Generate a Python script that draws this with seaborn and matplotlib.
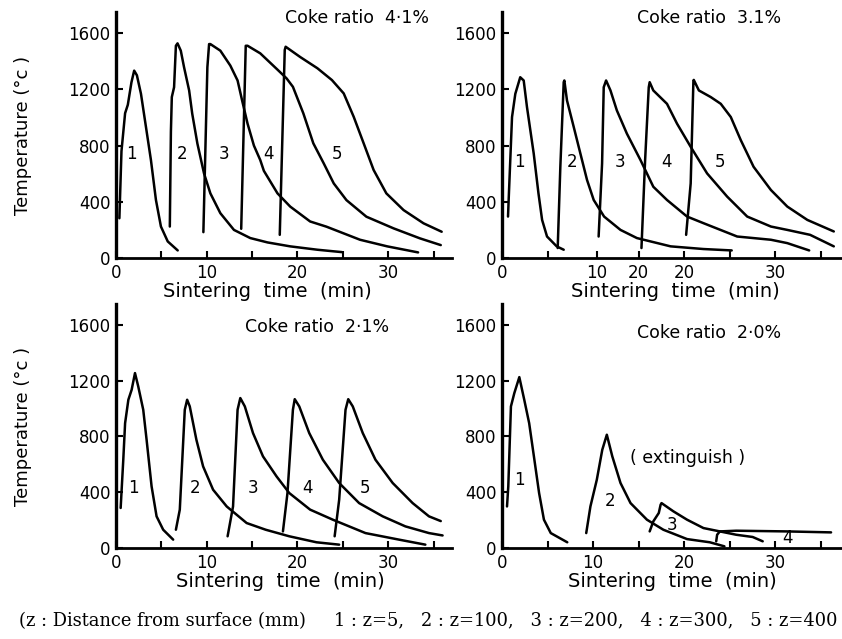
import matplotlib
matplotlib.use("Agg")
import matplotlib.pyplot as plt
import pandas as pd
import seaborn as sns

sns.set_theme(style="white", rc={
    "axes.edgecolor": "black", "text.color": "black", "axes.labelcolor": "black",
    "xtick.color": "black", "ytick.color": "black",
})
plt.rcParams["font.family"] = ["DejaVu Sans"]

TITLES = ["Coke ratio  4·1%", "Coke ratio  3.1%", "Coke ratio  2·1%", "Coke ratio  2·0%"]
CAPTION = ("(z : Distance from surface (mm)     1 : z=5,   2 : z=100,   3 : z=200,   "
           "4 : z=300,   5 : z=400")

# coke ratio 4.1 %
TIME_41 = [
    [0.37, 0.6, 1.0, 1.3, 1.7, 2.0, 2.3, 2.75, 3.3, 3.85, 4.4, 4.95, 5.7, 6.8],
    [5.93, 6.05, 6.15, 6.4, 6.6, 6.78, 7.14, 7.5, 8.06, 8.4, 8.97, 9.7, 10.4, 11.5, 13.0,
     14.8, 16.7, 19.2, 22.2, 24.9],
    [9.63, 10.07, 10.26, 10.4, 11.5, 12.6, 13.4, 13.9, 14.5, 15.2, 15.9, 16.3, 17.8, 19.2,
     21.4, 23.2, 26.9, 29.9, 33.3],
    [13.8, 14.3, 14.5, 15.9, 17.8, 18.8, 19.5, 20.65, 21.75, 22.9, 24.0, 25.4, 27.6, 30.6,
     33.5, 35.8],
    [18.05, 18.6, 18.7, 20.3, 22.2, 23.8, 25.1, 26.2, 27.3, 28.4, 29.8, 31.7, 33.9, 35.9],
]
TEMP_41 = [
    [283, 760, 1030, 1090, 1250, 1333, 1300, 1168, 932, 696, 413, 224, 118, 54],
    [224, 900, 1145, 1215, 1510, 1527, 1475, 1357, 1192, 1027, 814, 602, 460, 319, 200,
     142, 111, 83, 59, 42],
    [184, 1357, 1522, 1522, 1475, 1369, 1263, 1121, 956, 800, 697, 620, 460, 366,
     260, 223, 130, 83, 40],
    [208, 1510, 1510, 1456, 1340, 1278, 1218, 1029, 816, 673, 531, 412, 294, 211, 140, 92],
    [165, 1480, 1503, 1430, 1350, 1266, 1171, 1005, 816, 626, 460, 341, 247, 187],
]

# coke ratio 3.1 %
TIME_31 = [
    [0.66, 0.73, 1.1, 1.46, 2.0, 2.38, 2.74, 3.48, 4.0, 4.4, 4.94, 6.0, 6.77],
    [6.11, 6.4, 6.77, 6.84, 7.13, 7.87, 8.6, 9.33, 10.06, 11.2, 13.0, 14.8, 18.5, 22.1, 25.2],
    [10.6, 10.98, 11.16, 11.42, 11.9, 12.6, 13.7, 15.2, 16.6, 18.1, 20.3, 22.1, 25.8, 29.5,
     31.3, 33.7],
    [15.3, 15.7, 16.1, 16.2, 16.6, 18.1, 19.2, 20.7, 22.5, 24.7, 26.9, 29.5, 31.3, 33.8, 36.4],
    [20.2, 20.7, 21.0, 21.04, 21.6, 22.9, 24.0, 25.1, 26.2, 27.6, 29.5, 31.3, 33.5, 36.4],
]
TEMP_31 = [
    [295, 413, 1003, 1168, 1286, 1263, 1074, 743, 460, 271, 153, 83, 59],
    [71, 649, 1251, 1263, 1121, 932, 743, 555, 413, 295, 200, 142, 83, 64, 54],
    [153, 673, 1215, 1263, 1192, 1050, 885, 696, 507, 413, 295, 248, 153, 130, 106, 54],
    [71, 696, 1215, 1251, 1192, 1097, 956, 791, 602, 437, 295, 224, 200, 165, 83],
    [165, 531, 1263, 1267, 1192, 1145, 1097, 1003, 838, 649, 484, 366, 271, 189],
]

# coke ratio 2.1 %
TIME_21 = [
    [0.51, 0.8, 1.0, 1.36, 1.72, 2.09, 2.45, 3.0, 3.37, 3.92, 4.47, 5.2, 6.3],
    [6.6, 7.03, 7.58, 7.84, 8.13, 8.86, 9.6, 10.7, 12.2, 14.4, 16.5, 19.1, 22.1, 24.6],
    [12.3, 12.9, 13.4, 13.7, 14.2, 15.1, 16.2, 17.7, 19.1, 21.4, 23.9, 27.5, 31.2, 34.1],
    [18.4, 18.9, 19.5, 19.7, 20.2, 21.3, 22.8, 24.6, 26.8, 29.4, 31.9, 34.5, 36.0],
    [24.1, 24.6, 25.3, 25.6, 26.1, 27.2, 28.6, 30.5, 32.7, 34.5, 35.8],
]
TEMP_21 = [
    [287, 633, 895, 1063, 1134, 1254, 1158, 991, 776, 442, 227, 131, 60],
    [131, 275, 991, 1063, 1015, 776, 585, 418, 298, 179, 131, 84, 41, 24],
    [84, 298, 991, 1075, 1015, 824, 657, 513, 394, 275, 203, 107, 60, 24],
    [119, 394, 991, 1067, 1015, 824, 633, 466, 322, 227, 155, 107, 90],
    [84, 346, 991, 1067, 1015, 824, 633, 466, 322, 227, 193],
]

# coke ratio 2.0 %
TIME_20 = [
    [0.55, 0.69, 0.98, 1.35, 1.9, 2.44, 2.98, 3.5, 4.07, 4.6, 5.35, 7.16],
    [9.24, 9.7, 10.4, 11.0, 11.5, 12.1, 13.0, 14.1, 15.9, 17.7, 20.3, 22.8, 24.4],
    [16.2, 16.6, 17.2, 17.4, 17.5, 18.8, 20.3, 22.1, 23.9, 25.7, 27.5, 28.6],
    [23.5, 23.6, 23.9, 25.7, 31.2, 36.1],
]
TEMP_20 = [
    [298, 442, 1015, 1110, 1225, 1063, 895, 657, 394, 203, 107, 41],
    [107, 298, 489, 704, 812, 657, 466, 322, 203, 131, 64, 41, 12],
    [119, 191, 251, 310, 322, 263, 203, 143, 119, 95, 79, 48],
    [48, 95, 119, 124, 119, 112],
]

# curve number labels (x, y)
LBL_41 = [(1.65, 743), (7.3, 743), (11.9, 743), (16.8, 743), (24.4, 743)]
LBL_31 = [(1.94, 684), (7.7, 684), (12.9, 684), (18.1, 684), (23.9, 684)]
LBL_21 = [(1.9, 430), (8.7, 430), (15.1, 430), (21.1, 430), (27.4, 430)]
LBL_20 = [(1.9, 489), (11.9, 334), (18.6, 167), (31.3, 72)]

TITLE_POS = [(18.6, 1707), (14.8, 1707), (14.2, 1583), (14.8, 1540)]
XLABEL_X = [0.45, 0.51, 0.49, 0.50]

PANELS = [(TIME_41, TEMP_41, LBL_41), (TIME_31, TEMP_31, LBL_31),
          (TIME_21, TEMP_21, LBL_21), (TIME_20, TEMP_20, LBL_20)]

fig = plt.figure(figsize=(8.42, 6.39), dpi=100)
rects = [
    [0.1378, 0.5962, 0.3986, 0.385],
    [0.5962, 0.5962, 0.4038, 0.385],
    [0.1378, 0.1424, 0.3986, 0.382],
    [0.5962, 0.1424, 0.4038, 0.382],
]

for i, (times, temps, labels) in enumerate(PANELS):
    ax = fig.add_axes(rects[i])
    rows = []
    for k, (tt, yy) in enumerate(zip(times, temps)):
        for t, y in zip(tt, yy):
            rows.append({"curve": k + 1, "time": t, "temp": y})
    df = pd.DataFrame(rows)
    sns.lineplot(data=df, x="time", y="temp", units="curve", estimator=None,
                 sort=False, color="black", lw=1.8, ax=ax)

    for n, (lx, ly) in enumerate(labels):
        ax.text(lx, ly, str(n + 1), fontsize=12, ha="center", va="center")
    tx, ty = TITLE_POS[i]
    ax.text(tx, ty, TITLES[i], fontsize=12.5, ha="left", va="center")
    if i == 3:
        ax.text(20.4, 645, "( extinguish )", fontsize=12.5, ha="center", va="center")

    ax.set_xlim(0, 37.3 if i % 2 else 37)
    ax.set_ylim(0, 1750)
    ax.set_yticks([0, 400, 800, 1200, 1600])
    if i == 1:
        # tick labels as printed in the original scan
        ax.set_xticks([0, 10.4, 15, 20, 30])
        ax.set_xticklabels(["0", "10", "20", "20", "30"])
    else:
        ax.set_xticks([0, 10, 20, 30])
    ax.set_xticks([5, 15, 25, 35], minor=True)
    ax.tick_params(which="both", direction="in", length=5, width=1.5,
                   bottom=True, left=True, labelsize=12, pad=4)
    sns.despine(ax=ax)
    ax.spines["left"].set_linewidth(2.4)
    ax.spines["bottom"].set_linewidth(2.0)
    ax.set_xlabel("Sintering  time  (min)", fontsize=14, x=XLABEL_X[i], labelpad=0)
    if i % 2 == 0:
        ax.set_ylabel("Temperature (°c )", fontsize=13, labelpad=26)
    else:
        ax.set_ylabel("")

fig.text(0.022, 0.028, CAPTION, family="DejaVu Serif", fontsize=12.9,
         ha="left", va="center")

fig.savefig("out.png", dpi=100)
